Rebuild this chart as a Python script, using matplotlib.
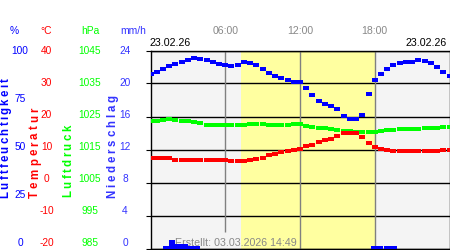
import matplotlib
matplotlib.use("Agg")
import matplotlib.pyplot as plt
from matplotlib.path import Path
from matplotlib.font_manager import FontProperties
import numpy as np

W, H = 450, 250

# --- data, half-hour steps 00:00 .. 24:00 ---
hours = np.arange(0, 24.5, 0.5)
humidity = [88, 89, 90.5, 92, 93, 94, 95, 96, 95.8, 95, 94, 93, 92.5, 92, 92.5, 94,
            93.5, 92.5, 90.5, 88.5, 87, 86, 85, 84, 84, 81, 77.5, 74.5, 73, 72, 70.5,
            67, 65.6, 65.6, 67.3, 78, 85, 88, 90.5, 92.5, 93.5, 94, 94, 95, 94.5,
            93.5, 91.7, 89, 87]
temperature = [7.3, 7.3, 7.3, 7.3, 6.9, 6.9, 6.9, 6.9, 6.9, 6.9, 6.9, 6.9, 6.7, 6.5,
               6.4, 6.4, 6.7, 7.0, 7.5, 8.2, 8.7, 9.1, 9.5, 10.0, 10.1, 11.1, 11.5,
               12.3, 13.0, 13.1, 14.1, 15.0, 15.1, 15.0, 13.8, 12.1, 10.8, 10.3, 9.8,
               9.6, 9.5, 9.5, 9.5, 9.5, 9.5, 9.5, 9.5, 9.7, 9.8]
pressure = [1023.6, 1023.6, 1023.8, 1024.1, 1023.8, 1023.5, 1023.5, 1023.3, 1022.9,
            1022.4, 1022.3, 1022.3, 1022.3, 1022.3, 1022.3, 1022.5, 1022.7, 1022.7,
            1022.7, 1022.5, 1022.3, 1022.3, 1022.5, 1022.6, 1022.6, 1022.2, 1021.7,
            1021.6, 1021.4, 1021.3, 1020.9, 1020.6, 1020.5, 1020.3, 1020.2, 1020.2,
            1020.4, 1020.6, 1020.8, 1021.0, 1021.1, 1021.1, 1021.1, 1021.3, 1021.4,
            1021.4, 1021.5, 1021.8, 1021.8]
rain_start = [1.0, 1.5, 2.0, 2.5, 3.0, 3.5, 17.7, 18.2, 18.75, 19.25]
rain_mm = [0.3, 1.0, 0.6, 0.5, 0.3, 0.3, 0.25, 0.25, 0.25, 0.25]
daylight = (7.28, 18.0)

hum_ticks = [100, 75, 50, 25, 0]
temp_ticks = [40, 30, 20, 10, 0, -10, -20]
pres_ticks = [1045, 1035, 1025, 1015, 1005, 995, 985]
rain_ticks = [24, 20, 16, 12, 8, 4, 0]
hour_ticks = [6, 12, 18]
hour_labels = ["06:00", "12:00", "18:00"]
date_label = "23.02.26"
created = "Erstellt: 03.03.2026 14:49"

BLUE = "#0000ff"
RED = "#ff0000"
GREEN = "#00ff00"
GREY = "#888888"
FONT = "Liberation Sans"

fig = plt.figure(figsize=(W / 100, H / 100), dpi=100)
ax = fig.add_axes([150.5 / W, 1.5 / H, 299 / W, 198 / H])
ax.set_facecolor("#f4f4f4")
ax.set_xlim(0, 24)
ax.set_ylim(0, 100)
ax.axvspan(*daylight, color="#ffffa0", lw=0, zorder=0)
ax.set_yticks(np.linspace(0, 100, 7))
ax.set_xticks([])
ax.yaxis.grid(True, color="black", lw=1)
ax.set_axisbelow(True)
ax.tick_params(left=False, labelleft=False)
for s in ax.spines.values():
    s.set_color("black")
    s.set_linewidth(1)
for h in hour_ticks:
    lo = 8.5 if h == 6 else 0
    ax.vlines(h, lo, 100, color="#808080", lw=1, zorder=1)

# rectangular dash marker like the station plots
rect = Path([(-1, -0.6), (1, -0.6), (1, 0.6), (-1, 0.6), (-1, -0.6)])
mk = dict(ls="none", marker=rect, markersize=4, markeredgewidth=0)

ax_r = ax.twinx()
ax_p = ax.twinx()
ax_t = ax.twinx()
ax_r.set_ylim(0, 24)
ax_p.set_ylim(985, 1045)
ax_t.set_ylim(-20, 40)
for a in (ax_r, ax_p, ax_t):
    a.set_xlim(0, 24)
    a.axis("off")

ax_r.bar(rain_start, rain_mm, width=0.5, align="edge", color=BLUE, lw=0)
ax.plot(hours, humidity, color=BLUE, zorder=3, **mk)
ax_p.plot(hours, pressure, color=GREEN, **mk)
ax_t.plot(hours, temperature, color=RED, **mk)

ax.text(2.0, 1.5, created, color=GREY, fontsize=7.7, family=FONT, zorder=5)

# --- left-side scale columns ---
def col(ticks, x, color):
    n = len(ticks)
    for i, v in enumerate(ticks):
        y = 50.7 + i * 192.6 / (n - 1)
        fig.text(x / W, 1 - y / H, str(v), color=color, fontsize=7.3, family=FONT,
                 ha="center", va="center")

col(hum_ticks, 20, BLUE)
col(temp_ticks, 46.5, RED)
col(pres_ticks, 90, GREEN)
col(rain_ticks, 125, "#3333ff")

for txt, x, c in [("%", 14, BLUE), ("°C", 46.5, RED), ("hPa", 90, GREEN), ("mm/h", 133, "#3333ff")]:
    fig.text(x / W, 1 - 30.8 / H, txt, color=c, fontsize=7.4, family=FONT, ha="center", va="center")

for h, lab in zip(hour_ticks, hour_labels):
    fig.text((150.5 + h / 24 * 299) / W, 1 - 30.8 / H, lab, color=GREY, fontsize=7.6,
             family=FONT, ha="center", va="center")
fig.text(150 / W, 1 - 43.5 / H, date_label, color="black", fontsize=7.7, family=FONT,
         ha="left", va="center")
fig.text(447 / W, 1 - 43.5 / H, date_label, color="black", fontsize=7.7, family=FONT,
         ha="right", va="center")

# rotated axis titles with letter spacing
renderer = fig.canvas.get_renderer()
fp = FontProperties(family=FONT, size=8.3, weight="bold")

def spaced(text, x_base, y_bottom, y_top, color):
    widths = [renderer.get_text_width_height_descent(c, fp, ismath=False)[0] for c in text]
    gap = ((y_bottom - y_top) - sum(widths)) / (len(text) - 1)
    pos = 0
    for c, w in zip(text, widths):
        yc = y_bottom - (pos + w / 2)
        fig.text(x_base / W, 1 - yc / H, c, rotation=90, rotation_mode="anchor",
                 ha="center", va="baseline", color=color, fontproperties=fp)
        pos += w + gap

spaced("Luftfeuchtigkeit", 8.5, 198, 78, BLUE)
spaced("Temperatur", 38, 198, 108, RED)
spaced("Luftdruck", 71.5, 197, 125, GREEN)
spaced("Niederschlag", 115.5, 198, 95, "#3333ff")

fig.savefig("out.png", dpi=100)
